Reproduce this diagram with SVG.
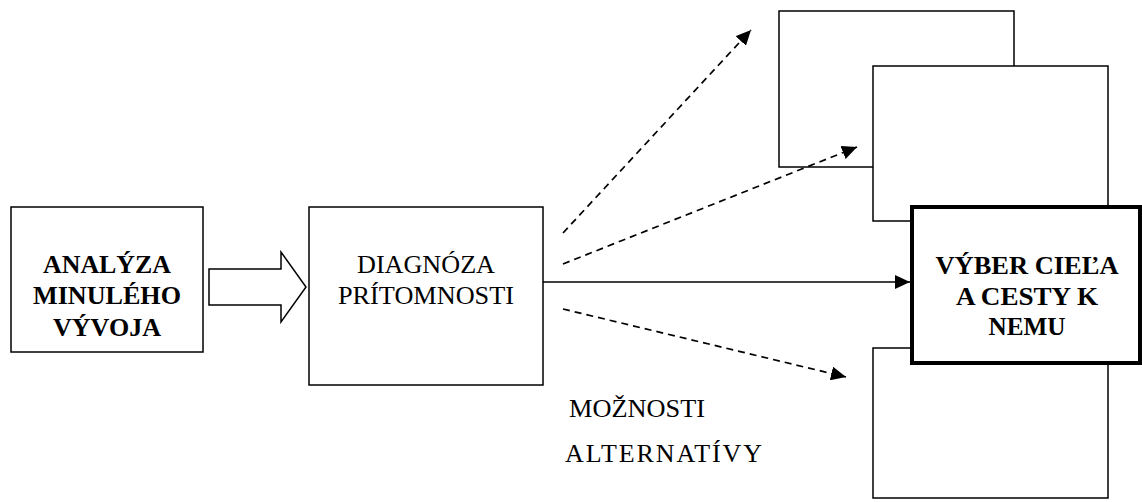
<svg xmlns="http://www.w3.org/2000/svg" width="1142" height="502" viewBox="0 0 1142 502">
<style>
.box{fill:#fff;stroke:#000;stroke-width:1.5}
text{font-family:'Liberation Serif','DejaVu Serif','Noto Serif',serif;font-size:26px;fill:#000;text-anchor:middle}
.b{font-weight:bold}
.dash{fill:none;stroke:#000;stroke-width:1.7;stroke-dasharray:7 5}
.solid{fill:none;stroke:#000;stroke-width:1.5}
</style>
<defs>
<marker id="ah" markerWidth="16" markerHeight="14" refX="15" refY="7" orient="auto" markerUnits="userSpaceOnUse">
<path d="M0,0 L15,7 L0,14 Z" fill="#000"/>
</marker>
</defs>
<rect width="1142" height="502" fill="#fff"/>
<g id="back1"><rect class="box" x="779" y="11" width="235" height="156"/></g>
<g id="back2"><rect class="box" x="873" y="66" width="235" height="155"/></g>
<g id="back3"><rect class="box" x="873" y="348" width="235" height="150"/></g>
<g id="analyza">
<rect class="box" x="11" y="207" width="192" height="145"/>
<text class="b" x="107" y="273" textLength="128" lengthAdjust="spacingAndGlyphs">ANALÝZA</text>
<text class="b" x="107" y="304" textLength="148" lengthAdjust="spacingAndGlyphs">MINULÉHO</text>
<text class="b" x="107" y="336" textLength="108" lengthAdjust="spacingAndGlyphs">VÝVOJA</text>
</g>
<g id="diagnoza">
<rect class="box" x="309" y="207" width="234" height="178"/>
<text x="426" y="273" textLength="138" lengthAdjust="spacingAndGlyphs">DIAGNÓZA</text>
<text x="426" y="304" textLength="176" lengthAdjust="spacingAndGlyphs">PRÍTOMNOSTI</text>
</g>
<g id="vyber">
<rect x="912" y="207" width="228" height="156" fill="#fff" stroke="#000" stroke-width="4"/>
<text class="b" x="1027" y="274" textLength="183" lengthAdjust="spacingAndGlyphs">VÝBER CIEĽA</text>
<text class="b" x="1027" y="305" textLength="142" lengthAdjust="spacingAndGlyphs">A CESTY K</text>
<text class="b" x="1027" y="335" textLength="77" lengthAdjust="spacingAndGlyphs">NEMU</text>
</g>
<g id="connectors">
<path class="solid" d="M209,269 H281 V252 L306,287 L281,322 V305 H209 Z"/>
<line class="solid" x1="543" y1="282" x2="910" y2="282" marker-end="url(#ah)"/>
<line class="dash" x1="563" y1="233" x2="751" y2="30" marker-end="url(#ah)"/>
<line class="dash" x1="563" y1="264" x2="857" y2="147" marker-end="url(#ah)"/>
<line class="dash" x1="563" y1="309" x2="846" y2="377" marker-end="url(#ah)"/>
</g>
<g id="labels">
<text x="569" y="417" style="text-anchor:start" textLength="136" lengthAdjust="spacingAndGlyphs">MOŽNOSTI</text>
<text x="565" y="462" style="text-anchor:start" textLength="197">ALTERNATÍVY</text>
</g>
</svg>
